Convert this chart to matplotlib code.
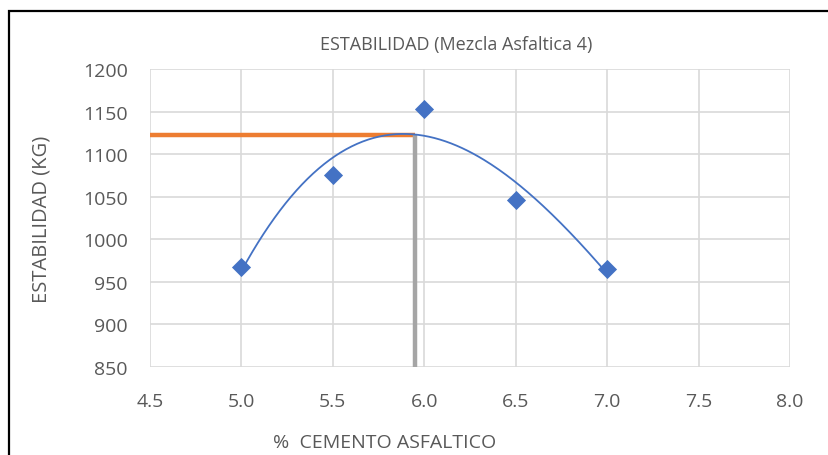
import numpy as np
import matplotlib
matplotlib.use("Agg")
import matplotlib.pyplot as plt
from matplotlib.patches import Rectangle

plt.rcParams['font.family'] = ['Open Sans', 'DejaVu Sans']

cemento = [5.0, 5.5, 6.0, 6.5, 7.0]
estabilidad = [968, 1075, 1153, 1046, 965]
optimo_x = 5.95
optimo_y = 1122

W, H = 829, 456
fig = plt.figure(figsize=(W / 100, H / 100), dpi=100)
ax = fig.add_axes([150 / W, 1 - 368 / H, 640 / W, 298 / H])

# chart border (runs off the right and bottom of the screenshot)
fig.patches.append(Rectangle((9 / W, -0.1), 1.2, 1 - 12 / H + 0.1, transform=fig.transFigure,
                             fill=False, edgecolor='black', linewidth=1.6))

# polynomial trendline, order 3 (like Excel)
coef = np.polyfit(cemento, estabilidad, 3)
xs = np.linspace(min(cemento), max(cemento), 200)
ax.plot(xs, np.polyval(coef, xs), color='#4472C4', linewidth=1.3, zorder=3)

ax.plot([4.5, optimo_x], [optimo_y, optimo_y], color='#ED7D31', linewidth=3.2, zorder=2,
        solid_capstyle='butt')
ax.plot([optimo_x, optimo_x], [850, optimo_y], color='#A5A5A5', linewidth=3.2, zorder=2,
        solid_capstyle='butt')

ax.scatter(cemento, estabilidad, marker='D', s=95, color='#4472C4', zorder=4, linewidths=0)

ax.set_xlim(4.5, 8.0)
ax.set_ylim(850, 1200)
ticks_x = np.arange(4.5, 8.01, 0.5)
ax.set_xticks(ticks_x)
ax.set_xticklabels([f"{v:.1f}" for v in ticks_x])
ax.set_yticks(range(850, 1201, 50))
ax.grid(True, color='#D9D9D9', linewidth=1.2)
ax.set_axisbelow(True)
for s in ax.spines.values():
    s.set_visible(False)
ax.tick_params(length=0, labelsize=14, colors='#595959')
ax.tick_params(axis='x', pad=18)
ax.tick_params(axis='y', pad=16)

fig.text(456 / W, 1 - 45 / H, 'ESTABILIDAD (Mezcla Asfaltica 4)', fontsize=13,
         color='#595959', ha='center', va='center')
fig.text(385 / W, 1 - 443 / H, '%  CEMENTO ASFALTICO', fontsize=14,
         color='#595959', ha='center', va='center')
fig.text(42 / W, 1 - 219 / H, 'ESTABILIDAD (KG)', fontsize=14.5, rotation=90,
         color='#595959', ha='center', va='center')

fig.savefig('out.png', dpi=100)
